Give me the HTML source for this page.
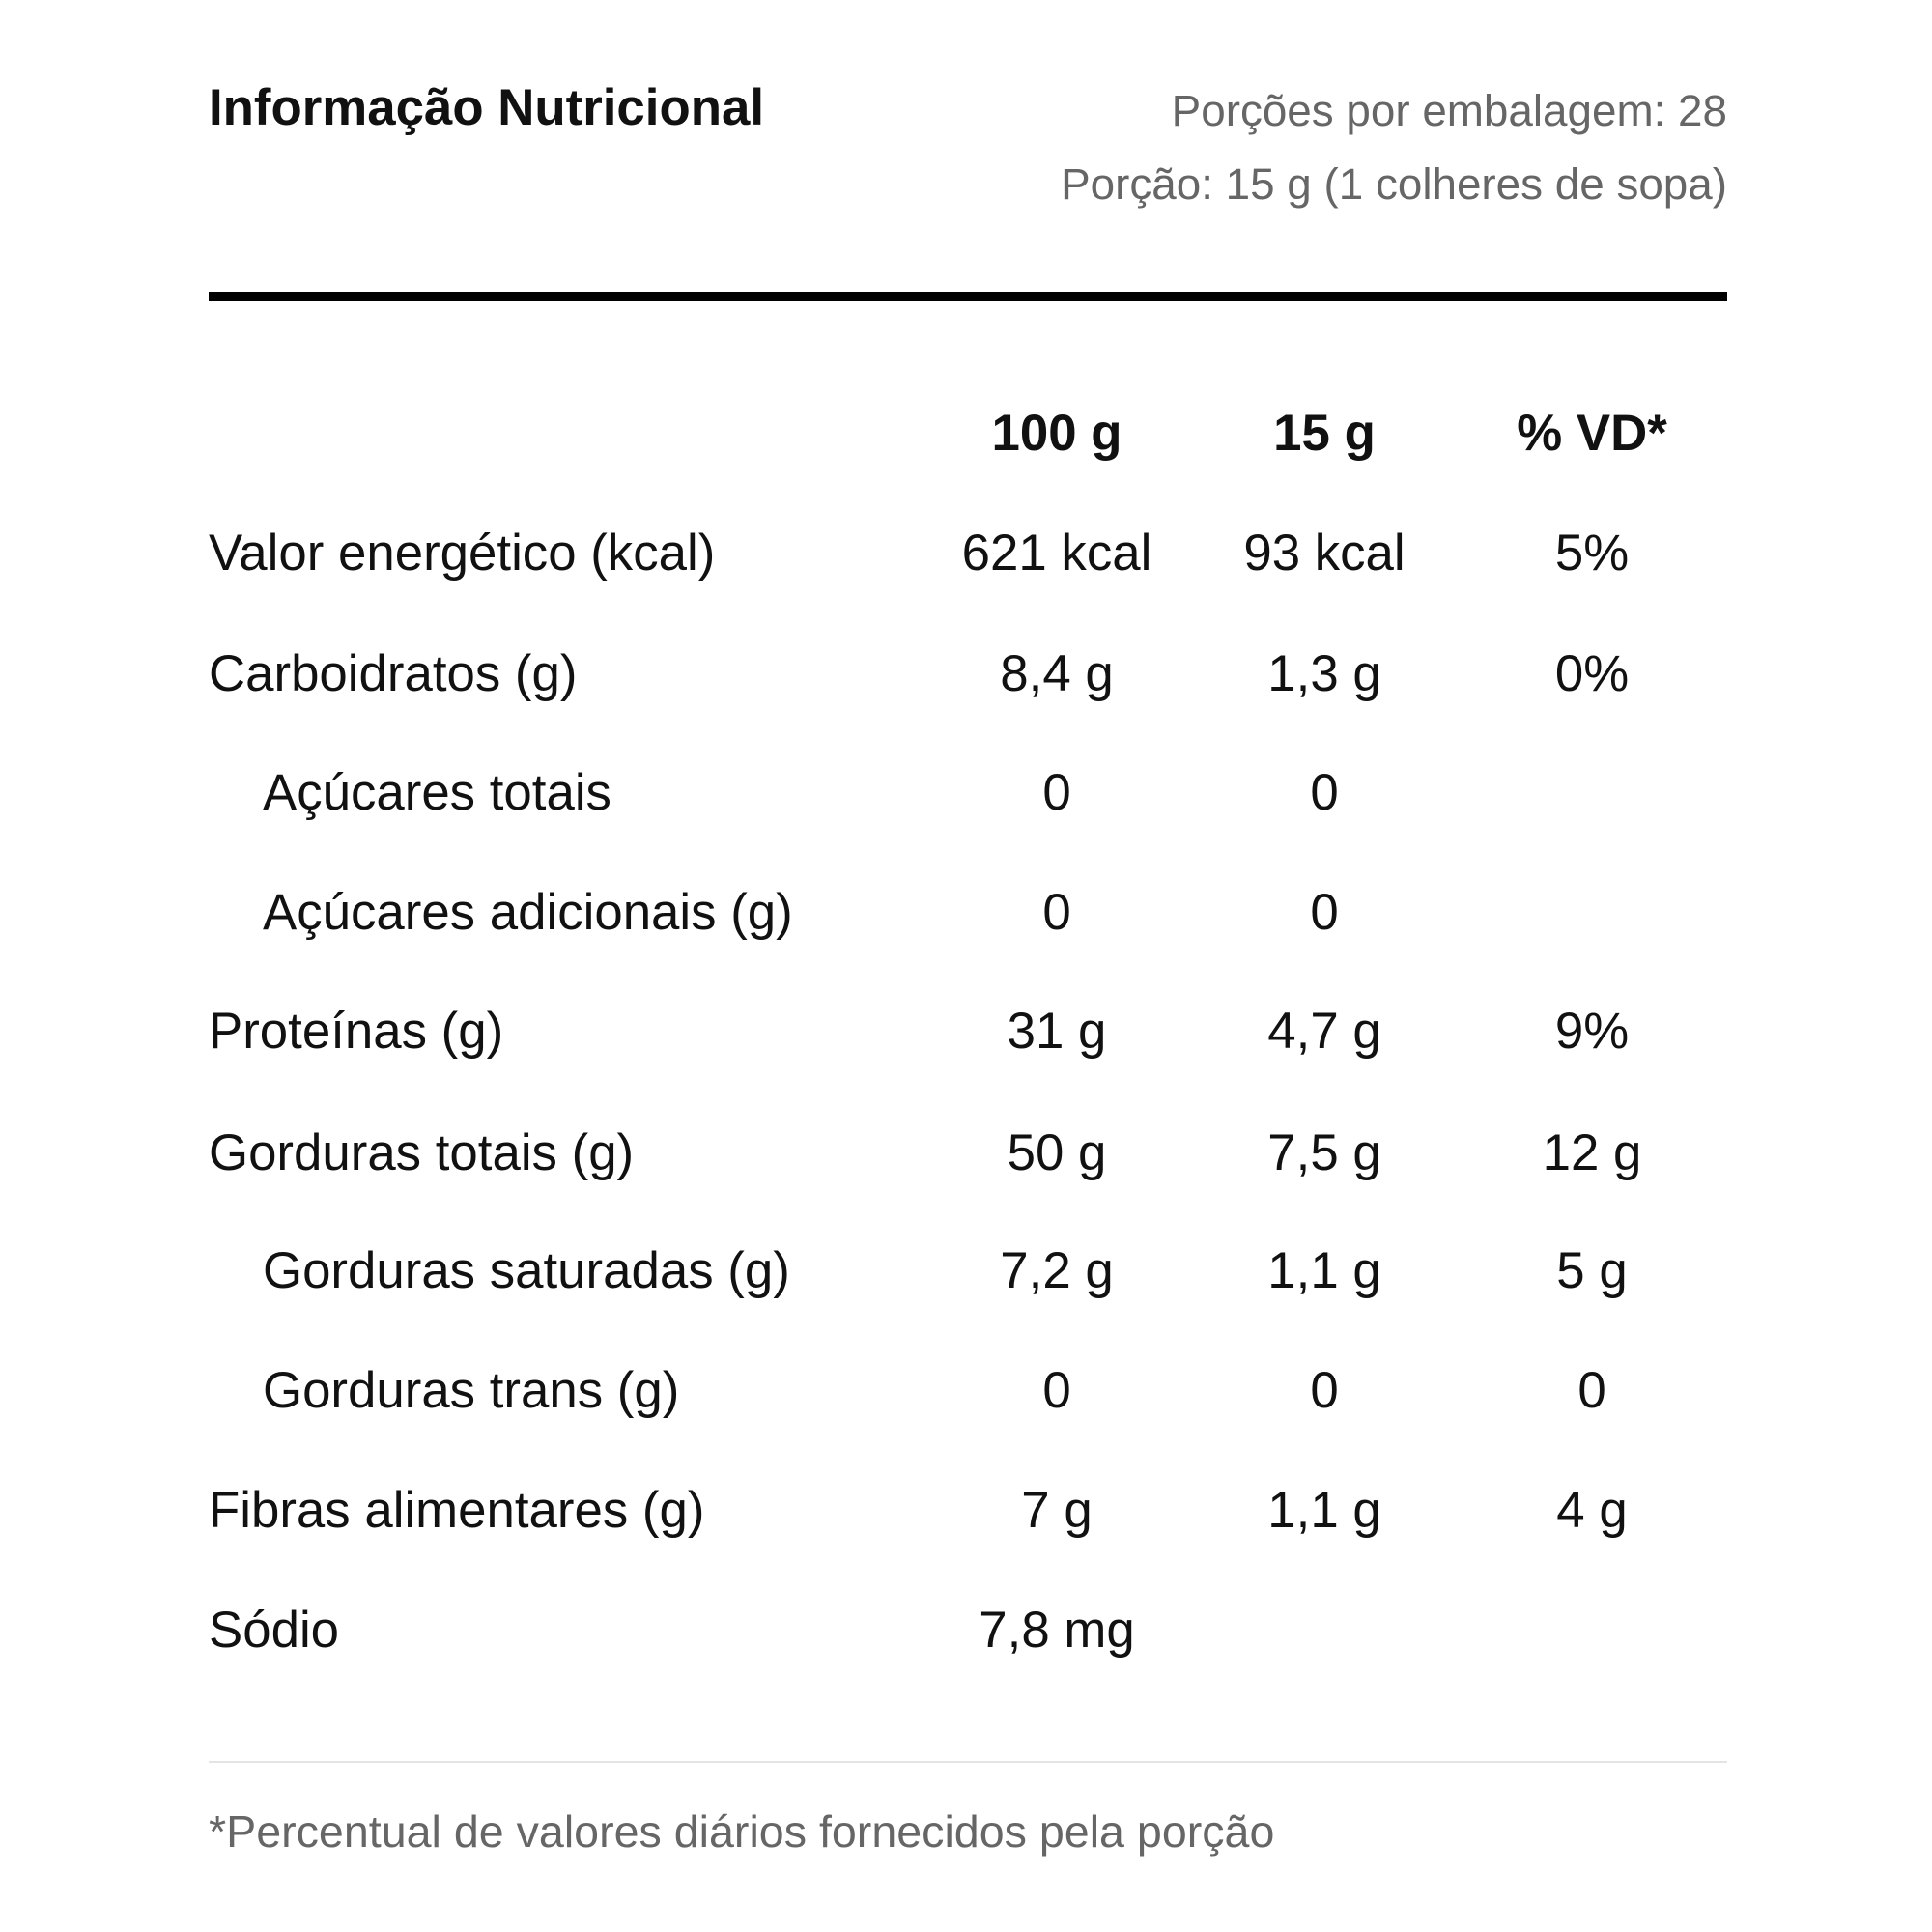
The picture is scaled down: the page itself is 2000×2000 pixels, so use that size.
<!DOCTYPE html>
<html><head><meta charset="utf-8"><style>
body{margin:0;width:2000px;height:2000px;background:#fff;position:relative;font-family:"Liberation Sans",sans-serif;color:#111;overflow:hidden}
.t{position:absolute;height:60px;line-height:60px;white-space:nowrap;font-size:52.8px}
.c{width:400px;text-align:center}
.b{font-weight:bold}
.g{color:#666;font-size:45.8px}
</style></head><body>
<div class="t b" style="left:216px;top:82px;font-size:52.8px">Informação Nutricional</div>
<div class="t g" style="right:212px;top:85px">Porções por embalagem: 28</div>
<div class="t g" style="right:212px;top:161px">Porção: 15 g (1 colheres de sopa)</div>
<div style="position:absolute;left:216px;top:302px;width:1572px;height:10px;background:#000"></div>

<div class="t c b" style="left:894px;top:419px">100 g</div>
<div class="t c b" style="left:1171px;top:419px">15 g</div>
<div class="t c b" style="left:1448px;top:419px">% VD*</div>

<div class="t" style="left:216px;top:543px">Valor energético (kcal)</div>
<div class="t c" style="left:894px;top:543px">621 kcal</div>
<div class="t c" style="left:1171px;top:543px">93 kcal</div>
<div class="t c" style="left:1448px;top:543px">5%</div>

<div class="t" style="left:216px;top:668px">Carboidratos (g)</div>
<div class="t c" style="left:894px;top:668px">8,4 g</div>
<div class="t c" style="left:1171px;top:668px">1,3 g</div>
<div class="t c" style="left:1448px;top:668px">0%</div>

<div class="t" style="left:272px;top:791px">Açúcares totais</div>
<div class="t c" style="left:894px;top:791px">0</div>
<div class="t c" style="left:1171px;top:791px">0</div>

<div class="t" style="left:272px;top:915px">Açúcares adicionais (g)</div>
<div class="t c" style="left:894px;top:915px">0</div>
<div class="t c" style="left:1171px;top:915px">0</div>

<div class="t" style="left:216px;top:1038px">Proteínas (g)</div>
<div class="t c" style="left:894px;top:1038px">31 g</div>
<div class="t c" style="left:1171px;top:1038px">4,7 g</div>
<div class="t c" style="left:1448px;top:1038px">9%</div>

<div class="t" style="left:216px;top:1164px">Gorduras totais (g)</div>
<div class="t c" style="left:894px;top:1164px">50 g</div>
<div class="t c" style="left:1171px;top:1164px">7,5 g</div>
<div class="t c" style="left:1448px;top:1164px">12 g</div>

<div class="t" style="left:272px;top:1286px">Gorduras saturadas (g)</div>
<div class="t c" style="left:894px;top:1286px">7,2 g</div>
<div class="t c" style="left:1171px;top:1286px">1,1 g</div>
<div class="t c" style="left:1448px;top:1286px">5 g</div>

<div class="t" style="left:272px;top:1410px">Gorduras trans (g)</div>
<div class="t c" style="left:894px;top:1410px">0</div>
<div class="t c" style="left:1171px;top:1410px">0</div>
<div class="t c" style="left:1448px;top:1410px">0</div>

<div class="t" style="left:216px;top:1534px">Fibras alimentares (g)</div>
<div class="t c" style="left:894px;top:1534px">7 g</div>
<div class="t c" style="left:1171px;top:1534px">1,1 g</div>
<div class="t c" style="left:1448px;top:1534px">4 g</div>

<div class="t" style="left:216px;top:1658px">Sódio</div>
<div class="t c" style="left:894px;top:1658px">7,8 mg</div>

<div style="position:absolute;left:216px;top:1823px;width:1572px;height:2px;background:#e4e4e4"></div>
<div class="t g" style="left:216px;top:1866px;font-size:46.6px">*Percentual de valores diários fornecidos pela porção</div>
</body></html>
